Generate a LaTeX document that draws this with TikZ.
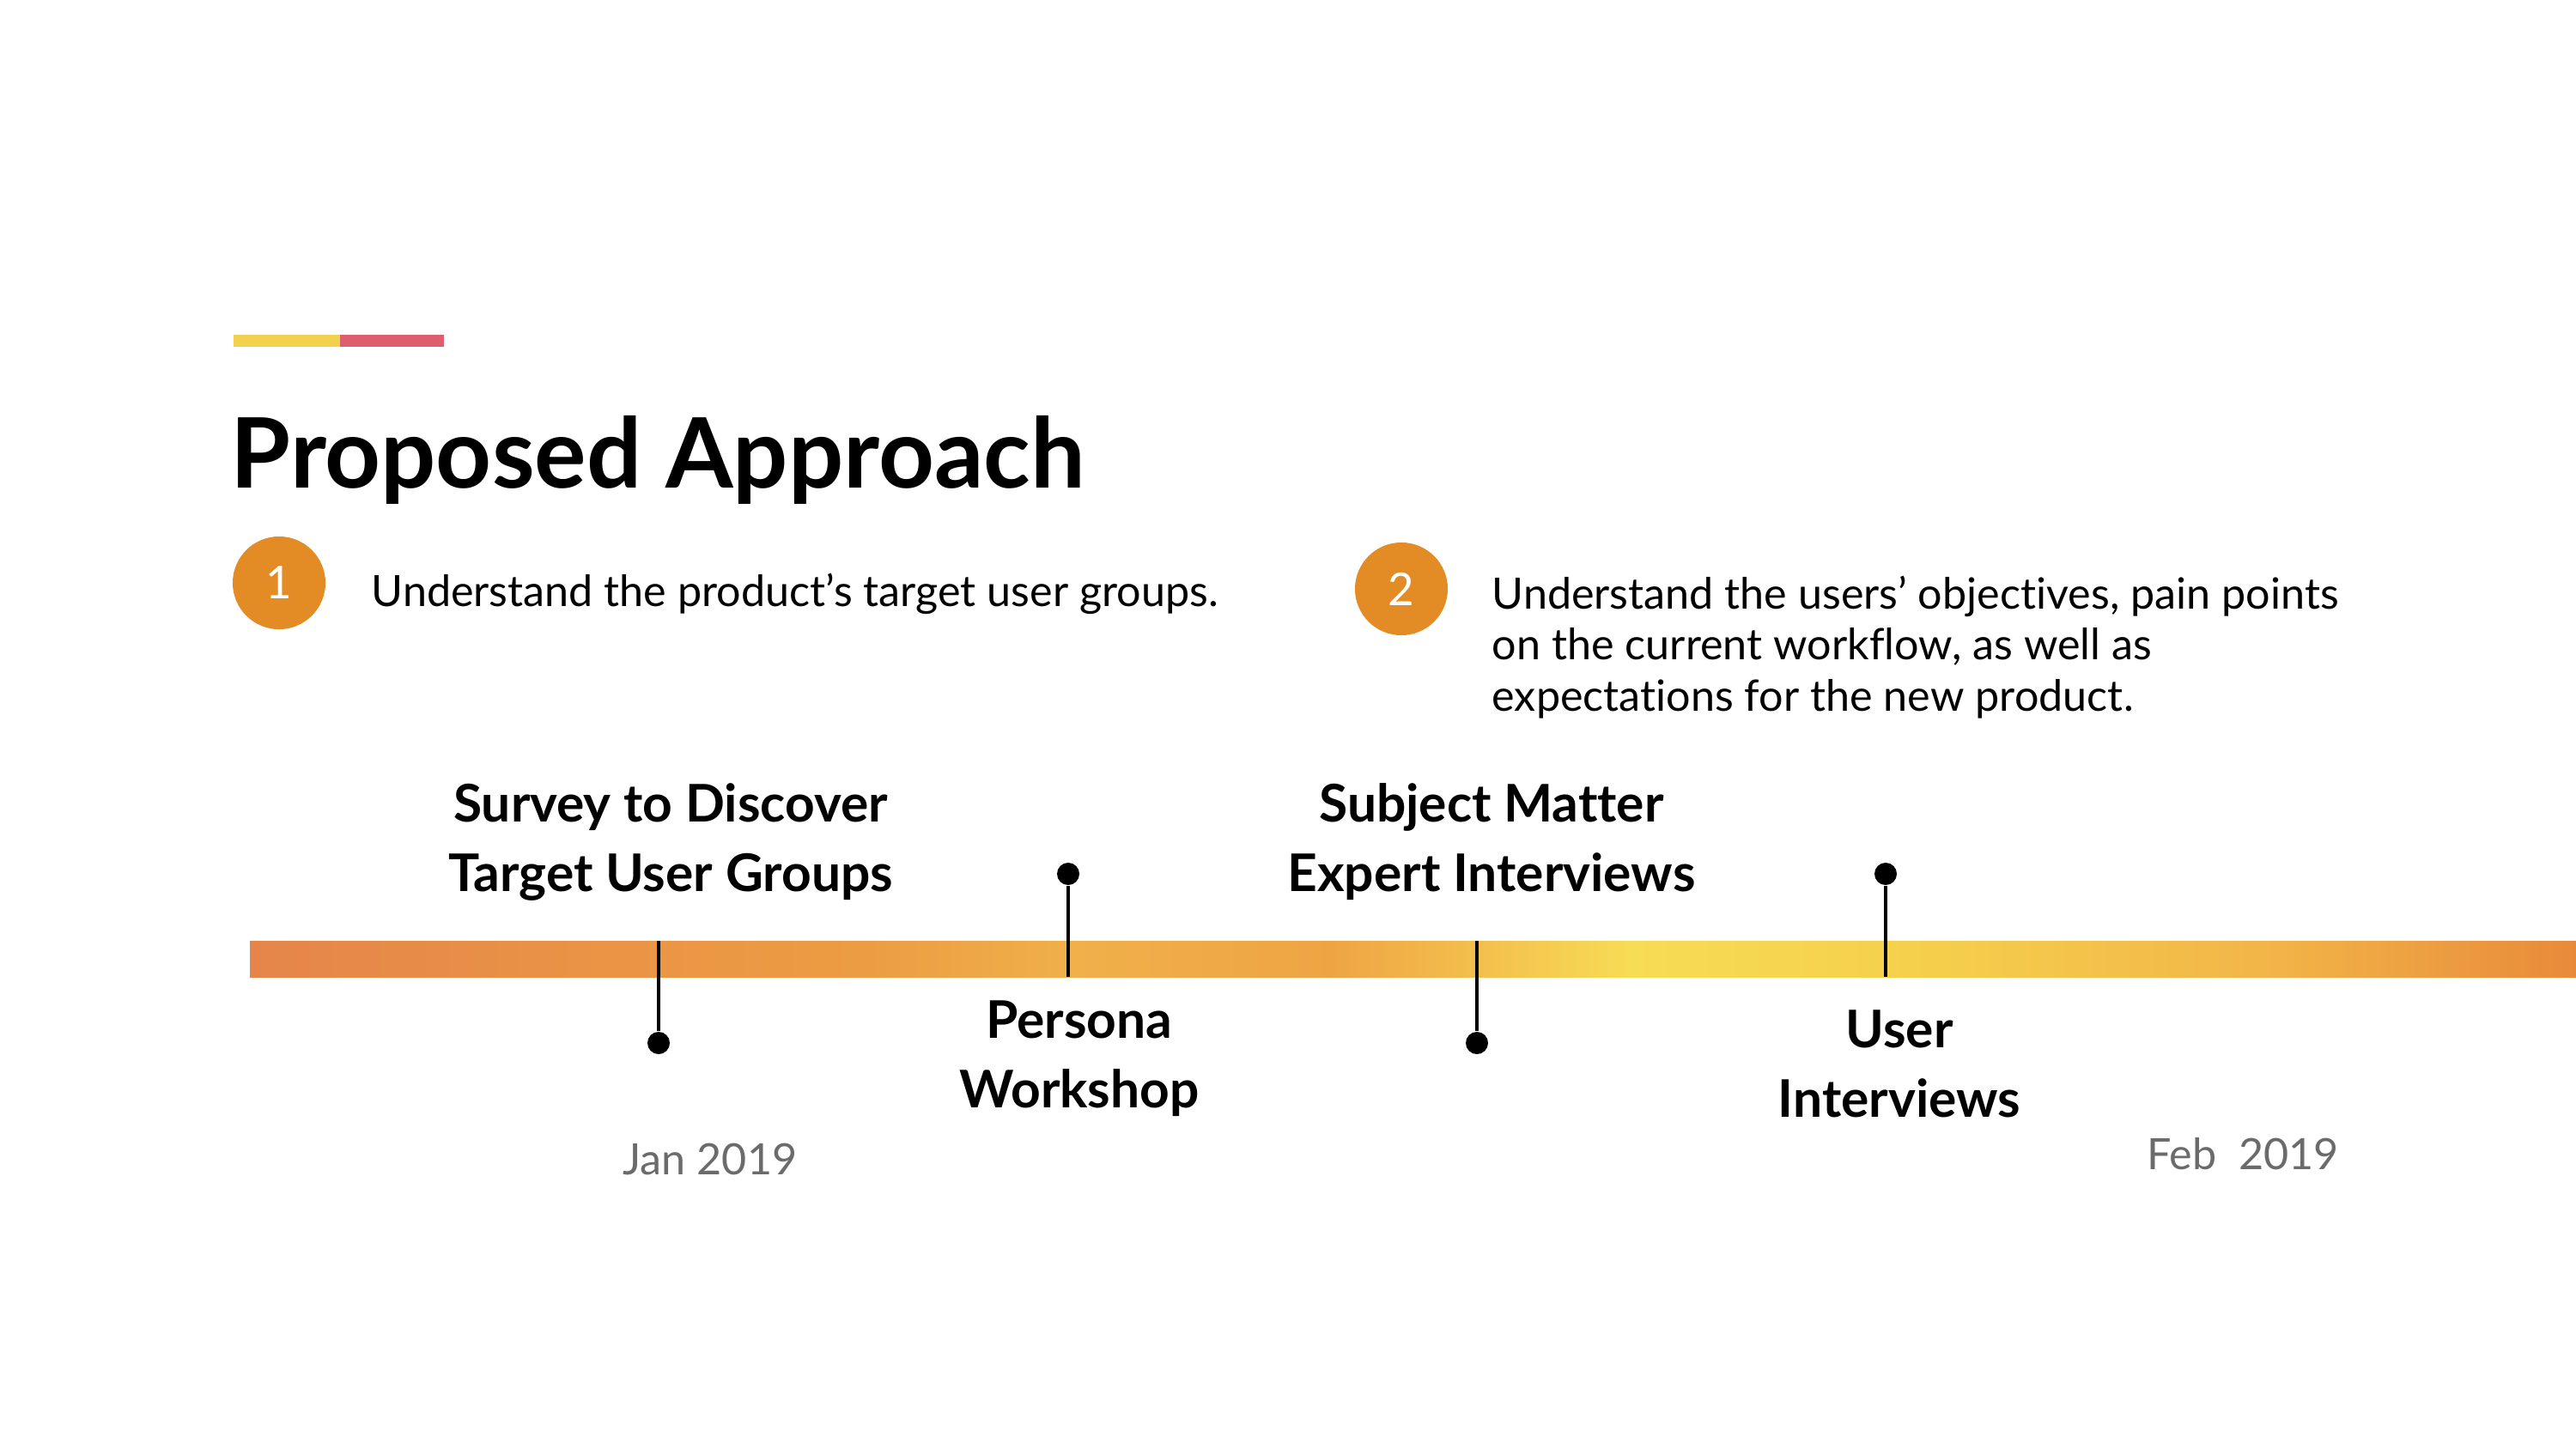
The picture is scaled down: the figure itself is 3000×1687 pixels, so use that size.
\documentclass[tikz,border=0pt]{standalone}
\usepackage{fontspec}
\setmainfont{Lato}[Ligatures=NoCommon]
\usetikzlibrary{positioning}
\definecolor{accentyellow}{HTML}{F2D14F}
\definecolor{accentred}{HTML}{DC5F70}
\definecolor{stepcircle}{HTML}{E38B25}
\definecolor{dategray}{HTML}{6B6B6B}
\tikzset{
  stepnum/.style={circle, fill=stepcircle, text=white, minimum size=1.08cm, inner sep=0pt,
    font=\fontsize{15}{18}\selectfont},
  steptext/.style={anchor=base west, align=left, inner sep=0pt,
    font=\fontsize{14.3}{16.8}\selectfont},
  milestone/.style={align=center, anchor=base, inner sep=0pt, font=\bfseries\fontsize{17.2}{22.8}\selectfont},
  pindot/.style={circle, fill=black, inner sep=0pt, minimum size=0.26cm},
  datelabel/.style={anchor=base, inner sep=0pt, text=dategray, font=\fontsize{14.3}{18}\selectfont}
}
\begin{document}
\begin{tikzpicture}[x=0.01cm, y=-0.01cm]
%picture is 3000 x 1687, one unit = one pixel, y going down
%multi-line nodes sit on the baseline of their last line
\newcommand{\bartop}{1096}
\newcommand{\barbot}{1138}
\newcommand{\dotlow}{1215}
\newcommand{\dothigh}{1018}
\useasboundingbox (0,0) rectangle (3000,1687);
\fill [white] (0,0) rectangle (3000,1687);
%accent bar over the title
\fill [accentyellow] (272,390) rectangle (396,404);
\fill [accentred] (396,390) rectangle (517,404);
\node [anchor=base west, inner sep=0pt, font=\bfseries\fontsize{32.2}{40}\selectfont] (title) at (268,568) {Proposed Approach};
%the two steps
\node [stepnum] (one) at (325,679) {1};
\node [steptext] (onetext) at (432,706) {Understand the product’s target user groups.};
\node [stepnum] (two) at (1632,686) {2};
\node [steptext] (twotext) at (1737,828) {Understand the users’ objectives, pain points\\on the current workflow, as well as\\expectations for the new product.};
%timeline bar
\foreach \xa/\xb/\ca/\cb in {291/700/E5854A/EA9446, 700/1000/EA9446/EC9C42, 1000/1250/EC9C42/F0B04A,
  1250/1550/F0B04A/EFA444, 1550/1900/EFA444/F7DC55, 1900/2250/F7DC55/F5CF4C,
  2250/2650/F5CF4C/F2B448, 2650/3000/F2B448/E88A3A}
  {\definecolor{ca}{HTML}{\ca}\definecolor{cb}{HTML}{\cb}
   \shade [left color=ca, right color=cb] (\xa,\bartop) rectangle (\xb,\barbot);}
%milestones
\node [pindot] (surveydot) at (767,\dotlow) {};
\coordinate (surveytop) at (767,\bartop);
\draw [line width=1.2pt] (surveytop) -- (surveydot);
\node [milestone] (survey) at (781,1038) {Survey to Discover\\Target User Groups};
\node [pindot] (personadot) at (1244,\dothigh) {};
\coordinate (personabot) at (1244,\barbot);
\draw [line width=1.2pt] (personadot) -- (personabot);
\node [milestone] (persona) at (1257,1290) {Persona\\Workshop};
\node [pindot] (expertdot) at (1720,\dotlow) {};
\coordinate (experttop) at (1720,\bartop);
\draw [line width=1.2pt] (experttop) -- (expertdot);
\node [milestone] (expert) at (1737,1038) {Subject Matter\\Expert Interviews};
\node [pindot] (userdot) at (2196,\dothigh) {};
\coordinate (userbot) at (2196,\barbot);
\draw [line width=1.2pt] (userdot) -- (userbot);
\node [milestone] (user) at (2212,1301) {User\\Interviews};
%dates
\node [datelabel] (jan) at (827,1368) {Jan 2019};
\node [datelabel] (feb) at (2612,1362) {Feb\ \ 2019};
\end{tikzpicture}
\end{document}
